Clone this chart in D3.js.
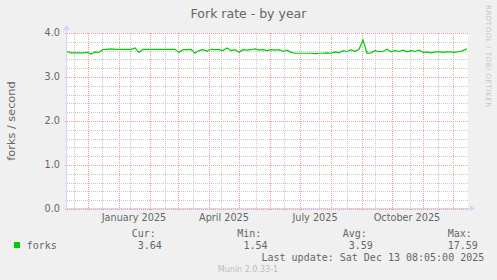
<!DOCTYPE html>
<html><head><meta charset="utf-8">
<script src="https://cdn.jsdelivr.net/npm/d3@7"></script>
<style>
html,body{margin:0;padding:0;background:#F0F0F0;}
svg{display:block;}
</style></head>
<body>
<script>
// ---- data ----
const title = "Fork rate - by year";
const yLabel = "forks / second";
const seriesName = "forks";
const startDate = "2024-11-10";
const endDate = "2025-12-15";
const sampleStepDays = 4;
const forks = [3.58,3.55,3.55,3.55,3.55,3.56,3.52,3.57,3.56,3.63,
  3.63,3.64,3.63,3.63,3.63,3.63,3.63,3.66,3.56,3.63,
  3.63,3.63,3.63,3.63,3.63,3.63,3.63,3.63,3.56,3.62,
  3.62,3.63,3.54,3.60,3.62,3.59,3.63,3.62,3.62,3.60,
  3.66,3.60,3.62,3.56,3.62,3.61,3.62,3.64,3.61,3.62,
  3.60,3.62,3.61,3.62,3.58,3.61,3.56,3.54,3.54,3.54,
  3.54,3.54,3.53,3.54,3.54,3.55,3.54,3.57,3.55,3.60,
  3.58,3.62,3.58,3.63,3.84,3.54,3.55,3.60,3.58,3.58,
  3.63,3.57,3.60,3.58,3.61,3.57,3.60,3.58,3.61,3.56,
  3.57,3.55,3.57,3.57,3.56,3.57,3.57,3.56,3.58,3.60,3.64];
const yTicks = [0, 1, 2, 3, 4];
const yTickLabels = ["0.0","1.0","2.0","3.0","4.0"];
const xLabelDates = ["2025-01-01","2025-04-01","2025-07-01","2025-10-01"];
const xLabels = ["January 2025","April 2025","July 2025","October 2025"];
const minorGridDates = ["2024-11-17","2024-12-15","2025-01-12","2025-02-16","2025-03-16","2025-04-13",
  "2025-05-18","2025-06-15","2025-07-20","2025-08-17","2025-09-14","2025-10-19","2025-11-16"];
const legendHeaders = ["Cur:","Min:","Avg:","Max:"];
const legendValues = ["3.64","1.54","3.59","17.59"];
const lastUpdate = "Last update: Sat Dec 13 08:05:00 2025";
const footer = "Munin 2.0.33-1";
const watermark = "RRDTOOL / TOBI OETIKER";

// ---- drawing ----
const W = 497, H = 280;
const pl = 67, pr = 467, pt = 33, pb = 209;
const parse = d3.utcParse("%Y-%m-%d");
const t0 = parse(startDate), t1 = parse(endDate);
const x = d3.scaleUtc().domain([t0, t1]).range([pl, pr]);
const y = d3.scaleLinear().domain([0, 4]).range([pb, pt]);

const svg = d3.select("body").append("svg").attr("width", W).attr("height", H);
svg.append("rect").attr("width", W).attr("height", H).attr("fill", "#F0F0F0");
svg.append("rect").attr("x", pl).attr("y", pt).attr("width", pr - pl + 1).attr("height", pb - pt).attr("fill", "#FFFFFF");

const textCol = "#666666";
const gridCol = "#C8C8C8";
const mgridCol = "#F39C9C";

// horizontal minor grid
const minorY = d3.range(0, 4.0001, 0.2).filter(v => Math.abs(v - Math.round(v)) > 1e-6);
svg.append("g").selectAll("line").data(minorY).join("line")
  .attr("x1", pl).attr("x2", pr + 1)
  .attr("y1", d => Math.round(y(d)) + 0.5).attr("y2", d => Math.round(y(d)) + 0.5)
  .attr("stroke", gridCol).attr("stroke-dasharray", "1,1").attr("shape-rendering", "crispEdges");
// vertical minor grid
svg.append("g").selectAll("line").data(minorGridDates.map(parse)).join("line")
  .attr("x1", d => Math.round(x(d)) + 0.5).attr("x2", d => Math.round(x(d)) + 0.5)
  .attr("y1", pt).attr("y2", pb + 2)
  .attr("stroke", gridCol).attr("stroke-dasharray", "1,1").attr("shape-rendering", "crispEdges");
// major vertical grid (month starts)
const months = d3.utcMonth.range(t0, t1);
svg.append("g").selectAll("line").data(months).join("line")
  .attr("x1", d => Math.round(x(d)) + 0.5).attr("x2", d => Math.round(x(d)) + 0.5)
  .attr("y1", pt).attr("y2", pb + 2)
  .attr("stroke", mgridCol).attr("stroke-dasharray", "1,1").attr("shape-rendering", "crispEdges");
// major horizontal grid
svg.append("g").selectAll("line").data(yTicks).join("line")
  .attr("x1", pl - 2).attr("x2", pr + 1)
  .attr("y1", d => Math.round(y(d)) + 0.5).attr("y2", d => Math.round(y(d)) + 0.5)
  .attr("stroke", mgridCol).attr("stroke-dasharray", "1,1").attr("shape-rendering", "crispEdges");

// axes
const axisCol = "#CFD6F8";
svg.append("line").attr("x1", pl - 0.5).attr("x2", pl - 0.5).attr("y1", pb + 0.5).attr("y2", pt - 5)
  .attr("stroke", axisCol).attr("shape-rendering", "crispEdges");
svg.append("line").attr("x1", pl - 2).attr("x2", pr + 4).attr("y1", pb - 0.5).attr("y2", pb - 0.5)
  .attr("stroke", axisCol).attr("shape-rendering", "crispEdges");
svg.append("path").attr("d", `M${pl - 3.5},${pt - 3} L${pl + 2.5},${pt - 3} L${pl - 0.5},${pt - 8} Z`).attr("fill", axisCol);
svg.append("path").attr("d", `M${pr + 3},${pb - 3.5} L${pr + 3},${pb + 2.5} L${pr + 8},${pb - 0.5} Z`).attr("fill", axisCol);

// y tick labels
svg.append("g").selectAll("text").data(yTicks).join("text")
  .attr("x", pl - 7).attr("y", d => y(d) + 3.4)
  .attr("text-anchor", "end").attr("font-family", "DejaVu Sans").attr("font-size", 9.7)
  .attr("fill", textCol).text((d, i) => yTickLabels[i]);

// x labels (centered half a month after tick)
svg.append("g").selectAll("text").data(xLabelDates).join("text")
  .attr("x", d => x(d3.utcDay.offset(parse(d), 15)))
  .attr("y", 221)
  .attr("text-anchor", "middle").attr("font-family", "DejaVu Sans").attr("font-size", 9.7)
  .attr("fill", textCol).text((d, i) => xLabels[i]);

// title
svg.append("text").attr("x", 248.5).attr("y", 18.3).attr("text-anchor", "middle")
  .attr("font-family", "DejaVu Sans").attr("font-size", 12.5).attr("fill", textCol).text(title);

// y label
svg.append("text").attr("transform", `translate(15,${(pt + pb) / 2}) rotate(-90)`)
  .attr("text-anchor", "middle").attr("font-family", "DejaVu Sans").attr("font-size", 11.3)
  .attr("fill", textCol).text(yLabel);

// watermark
svg.append("text").attr("transform", `translate(486,5) rotate(90)`)
  .attr("font-family", "DejaVu Sans").attr("font-size", 7).attr("textLength", 102)
  .attr("lengthAdjust", "spacing").attr("fill", "#C4C4C4").text(watermark);

// series line
const data = forks.map((v, i) => ({ t: d3.utcDay.offset(t0, i * sampleStepDays), v }));
svg.append("path").datum(data)
  .attr("d", d3.line().x(d => x(d.t)).y(d => y(d.v)))
  .attr("fill", "none").attr("stroke", "#00CC00").attr("stroke-width", 1.2);

// legend
const mono = "DejaVu Sans Mono";
svg.append("rect").attr("x", 14).attr("y", 242).attr("width", 6).attr("height", 6).attr("fill", "#00CC00");
svg.append("text").attr("x", 26.7).attr("y", 249).attr("font-family", mono).attr("font-size", 10)
  .attr("fill", textCol).text(seriesName);
const hdrX = [131.7, 237.3, 342.7, 447.7];
const valX = [137.7, 243.5, 348.7, 447.7];
svg.append("g").selectAll("text").data(legendHeaders).join("text")
  .attr("x", (d, i) => hdrX[i]).attr("y", 237).attr("font-family", mono).attr("font-size", 10)
  .attr("fill", textCol).text(d => d);
svg.append("g").selectAll("text").data(legendValues).join("text")
  .attr("x", (d, i) => valX[i]).attr("y", 249).attr("font-family", mono).attr("font-size", 10)
  .attr("fill", textCol).text(d => d);
svg.append("text").attr("x", 261.5).attr("y", 260.7).attr("font-family", mono).attr("font-size", 10)
  .attr("fill", textCol).text(lastUpdate);
svg.append("text").attr("x", 248).attr("y", 272).attr("text-anchor", "middle")
  .attr("font-family", "DejaVu Sans").attr("font-size", 8).attr("fill", "#BBBBBB").text(footer);
</script>
</body></html>
